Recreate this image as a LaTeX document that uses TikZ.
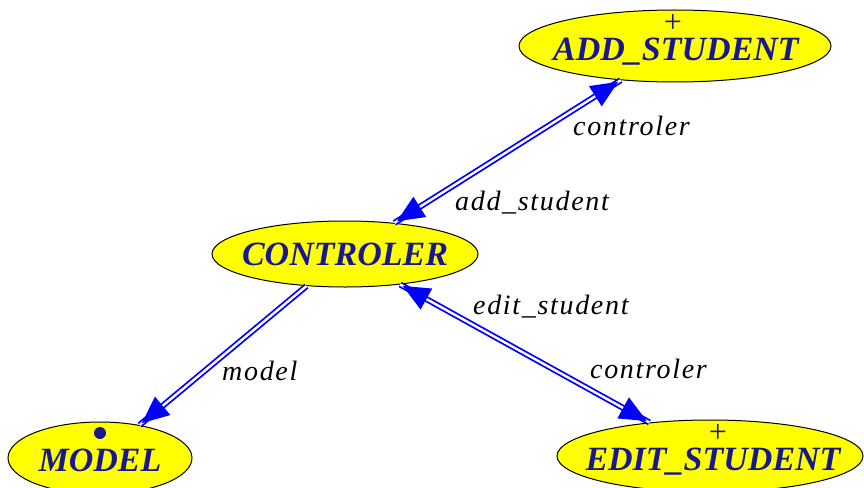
\documentclass[tikz,border=0pt]{standalone}
\usepackage{fontspec}
\setmainfont{Liberation Serif}
\newfontfamily\rolefont[LetterSpace=6]{Liberation Serif}
\usetikzlibrary{shapes.geometric,decorations.markings}
\definecolor{clsfill}{RGB}{255,255,0}
\definecolor{clsink}{RGB}{24,24,140}
\definecolor{linkblue}{RGB}{0,0,255}
\begin{document}
\begin{tikzpicture}[x=1pt,y=-1pt,
  cls/.style={ellipse, draw=black, line width=1pt, fill=clsfill, inner sep=0pt},
  clsname/.style={font=\fontsize{34}{34}\selectfont\bfseries\itshape, text=clsink,
    inner sep=0pt, text height=22pt, text depth=0pt},
  % the marker box is flat and sits on the glyph's baseline
  marker/.style={font=\fontsize{32}{32}\selectfont, text=clsink, inner sep=0pt,
    text height=0pt, text depth=0pt},
  role/.style={font={\rolefont\itshape\fontsize{28}{28}\selectfont}, anchor=base west, inner sep=0pt},
  client/.style={draw=linkblue, line width=1.8pt, double=white, double distance=2.4pt},
  tipend/.style={postaction={decorate, decoration={markings,
      mark=at position -3pt with {\fill[linkblue] (0pt,0pt) -- (-27pt,12pt) -- (-27pt,-12pt) -- cycle;}}}},
  tipstart/.style={postaction={decorate, decoration={markings,
      mark=at position 3pt with {\fill[linkblue] (0pt,0pt) -- (27pt,12pt) -- (27pt,-12pt) -- cycle;}}}}
]
\useasboundingbox (0,0) rectangle (864,487);

% classes
\node[cls, minimum width=312pt, minimum height=72pt] (add) at (675,46) {};
\node[cls, minimum width=266pt, minimum height=66pt] (ctrl) at (345,254) {};
\node[cls, minimum width=184pt, minimum height=72pt] (model) at (100,458) {};
\node[cls, minimum width=306pt, minimum height=72pt] (edit) at (710,456) {};

% class names
\node[clsname] (addname) at (676,49) {ADD\_STUDENT};
\node[clsname] (ctrlname) at (345,254) {CONTROLER};
\node[clsname] (modelname) at (100,460) {MODEL};
\node[clsname] (editname) at (713,459) {EDIT\_STUDENT};

% class markers
\node[marker] (addplus) at (673,33) {+};
\node[marker] (editplus) at (718,442) {+};
\node[circle, fill=clsink, minimum size=12pt, inner sep=0pt] (modeldot) at (100,433) {};

% client links
\draw[client, tipstart, tipend] (add) -- (ctrl);
\draw[client, tipend] (ctrl) -- (model);
\draw[client, tipstart, tipend] (ctrl) -- (edit);

% feature names
\node[role] (r1) at (573,135) {controler};
\node[role] (r2) at (455,210) {add\_student};
\node[role] (r3) at (473,314) {edit\_student};
\node[role] (r4) at (590,378) {controler};
\node[role] (r5) at (222,380) {model};
\end{tikzpicture}
\end{document}
